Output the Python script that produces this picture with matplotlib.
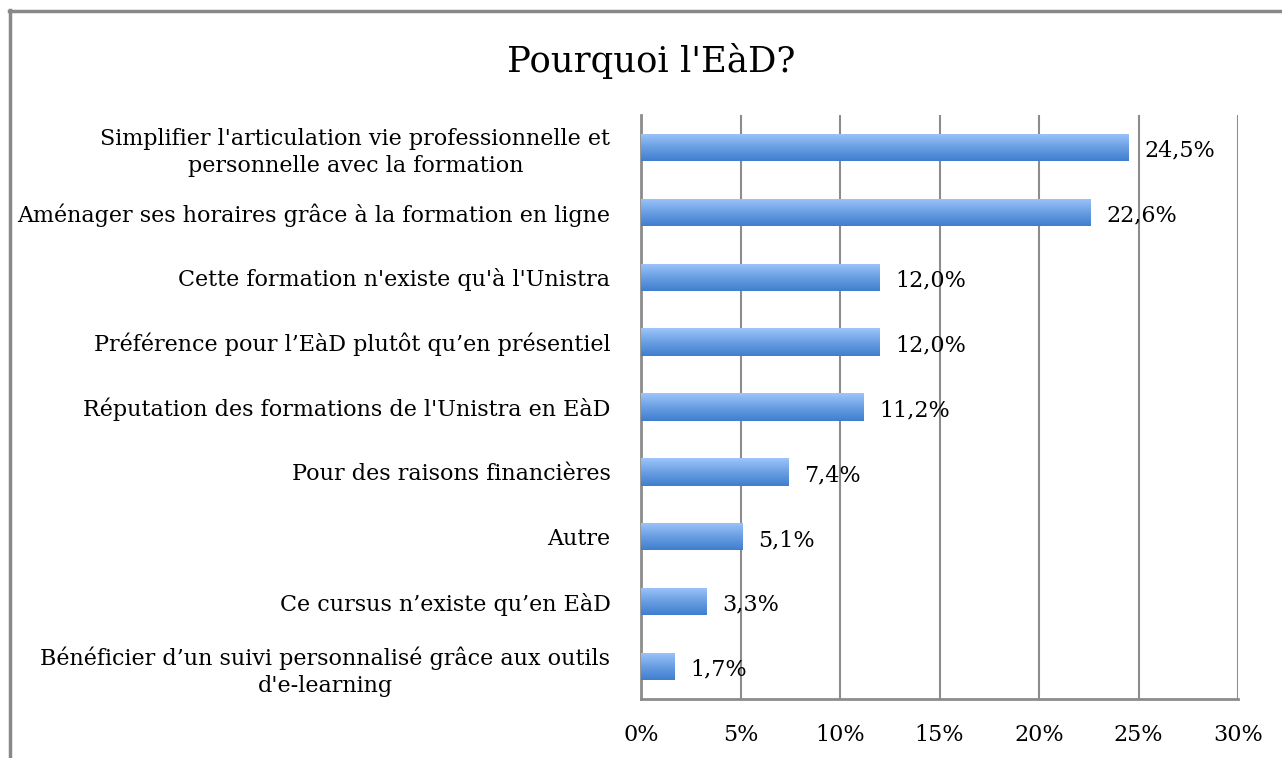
import numpy as np
import matplotlib.pyplot as plt
from matplotlib.lines import Line2D
from matplotlib.colors import LinearSegmentedColormap

plt.rcParams['font.family'] = ['DejaVu Serif']

# data, top to bottom as shown
categories = [
    "Simplifier l'articulation vie professionnelle et\npersonnelle avec la formation",
    "Aménager ses horaires grâce à la formation en ligne",
    "Cette formation n'existe qu'à l'Unistra",
    "Préférence pour l\u2019EàD plutôt qu\u2019en présentiel",
    "Réputation des formations de l'Unistra en EàD",
    "Pour des raisons financières",
    "Autre",
    "Ce cursus n\u2019existe qu\u2019en EàD",
    "Bénéficier d\u2019un suivi personnalisé grâce aux outils\nd'e-learning",
]
values = [24.5, 22.6, 12.0, 12.0, 11.2, 7.4, 5.1, 3.3, 1.7]
xticks = [0, 5, 10, 15, 20, 25, 30]

fs = 16

fig = plt.figure(figsize=(12.82, 7.58), dpi=100)
ax = fig.add_axes([0.5, 0.0778, 0.4657, 0.7705])

ypos = np.arange(len(values))[::-1]
bars = ax.barh(ypos, values, height=0.42, color='none', zorder=3)

# vertical gradient inside each bar
cmap = LinearSegmentedColormap.from_list('bl', ['#3F7ECF', '#6A9FE2', '#9EC5FB'])
grad = np.linspace(0, 1, 100).reshape(-1, 1)
for b in bars:
    x0, y0 = b.get_x(), b.get_y()
    w, h = b.get_width(), b.get_height()
    im = ax.imshow(grad, extent=[x0, x0 + w, y0, y0 + h], origin='lower',
                   cmap=cmap, aspect='auto', zorder=3)
    im.set_clip_path(b)

for y, v in zip(ypos, values):
    ax.text(v + 0.8, y - 0.05, f"{v:.1f}%".replace('.', ','), va='center', ha='left',
            fontsize=fs, zorder=4)

ax.set_xlim(0, 30)
ax.set_ylim(-0.5, len(values) - 0.5)
ax.set_xticks(xticks)
ax.set_xticklabels([f"{t}%" for t in xticks], fontsize=fs)
ax.set_yticks(ypos)
ax.set_yticklabels(categories, fontsize=fs, multialignment='center', linespacing=1.3)
ax.tick_params(axis='both', length=0)
ax.tick_params(axis='x', pad=18)
ax.tick_params(axis='y', pad=22)

ax.grid(axis='x', color='#8C8C8C', linewidth=1.5, zorder=1)
for s in ['top', 'right']:
    ax.spines[s].set_visible(False)
for s in ['left', 'bottom']:
    ax.spines[s].set_color('#8C8C8C')
    ax.spines[s].set_linewidth(2)

fig.text(0.508, 0.92, "Pourquoi l'EàD?", ha='center', va='center', fontsize=25.5)

# outer chart frame (top and left edges visible)
fig.add_artist(Line2D([0.007, 1], [0.986, 0.986], color='#888888', lw=2.5, transform=fig.transFigure))
fig.add_artist(Line2D([0.008, 0.008], [0, 0.987], color='#888888', lw=2.5, transform=fig.transFigure))

fig.savefig('out.png', dpi=100)
